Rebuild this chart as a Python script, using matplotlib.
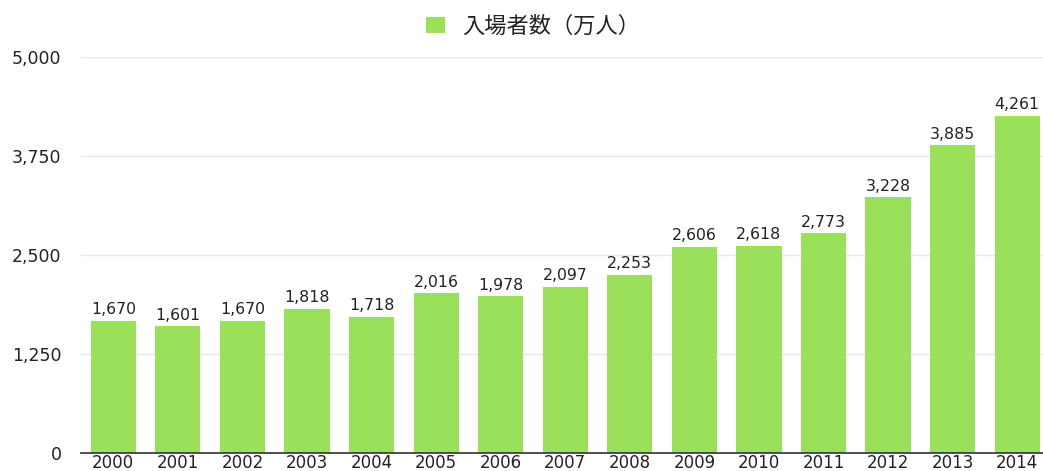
import matplotlib
matplotlib.use("Agg")
import matplotlib.pyplot as plt
from matplotlib.ticker import FuncFormatter

years = [str(y) for y in range(2000, 2015)]
visitors = [1670, 1601, 1670, 1818, 1718, 2016, 1978, 2097, 2253, 2606, 2618, 2773, 3228, 3885, 4261]
series_name = "入場者数（万人）"
yticks = [0, 1250, 2500, 3750, 5000]

bar_color = "#9be05b"
text_color = "#222222"

plt.rcParams['font.family'] = ['DejaVu Sans', 'Noto Sans CJK JP']

fig = plt.figure(figsize=(10.43, 4.71), dpi=100)
ax = fig.add_axes([81/1043, 18/471, (1043-81)/1043, (453-57)/471])

x = list(range(len(years)))
bars = ax.bar(x, visitors, width=0.7, color=bar_color, label=series_name, zorder=2)
for xi, v in zip(x, visitors):
    ax.text(xi, v + 45, f"{v:,}", ha='center', va='bottom', fontsize=11.3, color=text_color)

ax.set_ylim(0, 5000)
ax.set_xlim(-0.5, 14.4)
ax.set_yticks(yticks)
ax.yaxis.set_major_formatter(FuncFormatter(lambda v, p: f"{int(v):,}"))
ax.set_xticks(x)
ax.set_xticklabels(years)
ax.tick_params(axis='both', length=0, labelsize=12.5, labelcolor=text_color)
ax.tick_params(axis='x', labelsize=12)
ax.tick_params(axis='y', pad=14)
ax.tick_params(axis='x', pad=0.5)
ax.grid(axis='y', color='#e8e8e8', linewidth=1, zorder=0)
for s in ['top', 'right', 'left']:
    ax.spines[s].set_visible(False)
ax.spines['bottom'].set_color('#333333')
ax.spines['bottom'].set_linewidth(1.2)

leg = fig.legend(handles=[bars], labels=[series_name], loc='center', bbox_to_anchor=(533/1043, 1 - 26/471),
                 frameon=False, handlelength=0.85, handleheight=0.75, handletextpad=0.8,
                 prop={'family': ['Noto Sans CJK JP'], 'size': 16})
for t in leg.get_texts():
    t.set_color(text_color)

fig.savefig("out.png", dpi=100, facecolor='white')
